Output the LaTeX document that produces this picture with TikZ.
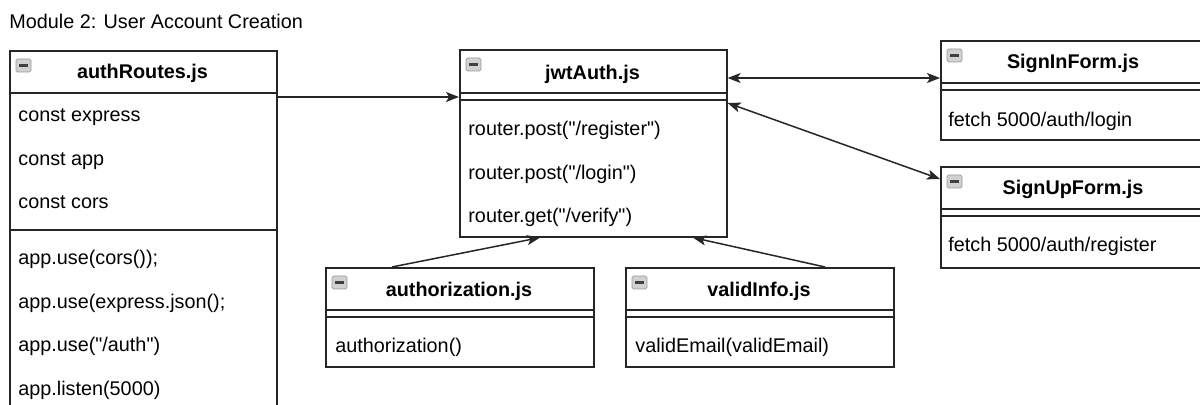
\documentclass[tikz,border=0pt]{standalone}
\usepackage{fontspec}
\setmainfont{Liberation Sans}[Ligatures=TeXOff]
\usetikzlibrary{arrows.meta,positioning}

\tikzset{
  classbox/.style={draw=black!85,line width=0.8pt,anchor=north west,inner sep=0pt},
  classhead/.style={anchor=base,inner sep=0pt,font=\fontsize{9.9}{12}\selectfont\bfseries},
  member/.style={anchor=base west,inner sep=0pt},
  part/.style={draw=black!85,line width=0.7pt},
  icon/.style={draw=black!40,fill=black!18,rounded corners=0.8pt,line width=0.4pt,
    minimum width=7.5pt,minimum height=6.5pt,inner sep=0pt},
  dep/.style={draw=black!85,line width=0.75pt,-{Stealth[length=6.5pt,width=5pt,inset=1.6pt]}},
  assoc/.style={draw=black!85,line width=0.75pt,
    {Stealth[length=6.5pt,width=5pt,inset=1.6pt]}-{Stealth[length=6.5pt,width=5pt,inset=1.6pt]}}
}
\newcommand{\minusbar}{\textcolor{black!75}{\rule{4.5pt}{1.4pt}}}

\begin{document}
\begin{tikzpicture}[x=0.5pt,y=-0.5pt,font=\fontsize{9.9}{12}\selectfont]

\useasboundingbox (0,0) rectangle (1200,405);

\node[member] (module) at (9,29) {Module 2: User Account Creation};

% authRoutes.js
\node[classbox,minimum width=133.5pt,minimum height=185pt] (routes) at (9,50) {};
\node[icon] (routes-i) at (23.5,65.5) {\minusbar};
\node[classhead] (routes-t) at (142.5,79) {authRoutes.js};
\draw[part] (routes.west |- 0,93) -- (routes.east |- 0,93);
\draw[part] (routes.west |- 0,230) -- (routes.east |- 0,230);
\def\rfield{1/{const express},2/{const app},3/{const cors}}
\foreach \i / \element in \rfield
  \node[member] (rf\i) at (18,78.5+43.5*\i) {\element};
\def\rmeth{1/{app.use(cors());},2/{app.use(express.json();},3/{app.use("/auth")},4/{app.listen(5000)}}
\foreach \i / \element in \rmeth
  \node[member] (rm\i) at (18,221.5+43.5*\i) {\element};

% jwtAuth.js
\node[classbox,minimum width=133.5pt,minimum height=93.5pt] (jwt) at (459,49) {};
\node[icon] (jwt-i) at (473.5,64.5) {\minusbar};
\node[classhead] (jwt-t) at (592.5,80) {jwtAuth.js};
\draw[part] (jwt.west |- 0,93) -- (jwt.east |- 0,93);
\draw[part] (jwt.west |- 0,100) -- (jwt.east |- 0,100);
\def\jmeth{1/{router.post("/register")},2/{router.post("/login")},3/{router.get("/verify")}}
\foreach \i / \element in \jmeth
  \node[member] (jm\i) at (468,92.5+43.5*\i) {\element};

% SignInForm.js
\node[classbox,minimum width=133pt,minimum height=49.5pt] (signin) at (940,40) {};
\node[icon] (signin-i) at (954.5,55.5) {\minusbar};
\node[classhead] (signin-t) at (1073,68.5) {SignInForm.js};
\draw[part] (signin.west |- 0,83) -- (signin.east |- 0,83);
\draw[part] (signin.west |- 0,90) -- (signin.east |- 0,90);
\node[member] (signin-m) at (948,127) {fetch 5000/auth/login};

% SignUpForm.js
\node[classbox,minimum width=133pt,minimum height=50.5pt] (signup) at (940,166) {};
\node[icon] (signup-i) at (954.5,181.5) {\minusbar};
\node[classhead] (signup-t) at (1073,195) {SignUpForm.js};
\draw[part] (signup.west |- 0,209) -- (signup.east |- 0,209);
\draw[part] (signup.west |- 0,216) -- (signup.east |- 0,216);
\node[member] (signup-m) at (948,252) {fetch 5000/auth/register};

% authorization.js
\node[classbox,minimum width=134pt,minimum height=49.5pt] (authz) at (325,267) {};
\node[icon] (authz-i) at (339.5,282.5) {\minusbar};
\node[classhead] (authz-t) at (459,297) {authorization.js};
\draw[part] (authz.west |- 0,310) -- (authz.east |- 0,310);
\draw[part] (authz.west |- 0,317) -- (authz.east |- 0,317);
\node[member] (authz-m) at (335,353) {authorization()};

% validInfo.js
\node[classbox,minimum width=134pt,minimum height=49.5pt] (valid) at (625,267) {};
\node[icon] (valid-i) at (639.5,282.5) {\minusbar};
\node[classhead] (valid-t) at (759,297) {validInfo.js};
\draw[part] (valid.west |- 0,310) -- (valid.east |- 0,310);
\draw[part] (valid.west |- 0,317) -- (valid.east |- 0,317);
\node[member] (valid-m) at (635,353) {validEmail(validEmail)};

% connectors
\draw[dep] (routes.east |- 0,97) -- (jwt.west |- 0,97);
\draw[assoc] (jwt.east |- 0,78) -- (signin.west |- 0,78);
\draw[assoc] (jwt.east |- 0,103) -- (signup.west |- 0,179);
\draw[dep] (authz.north -| 392,0) -- (jwt.south -| 540,0);
\draw[dep] (valid.north -| 825,0) -- (jwt.south -| 693,0);

\end{tikzpicture}
\end{document}
